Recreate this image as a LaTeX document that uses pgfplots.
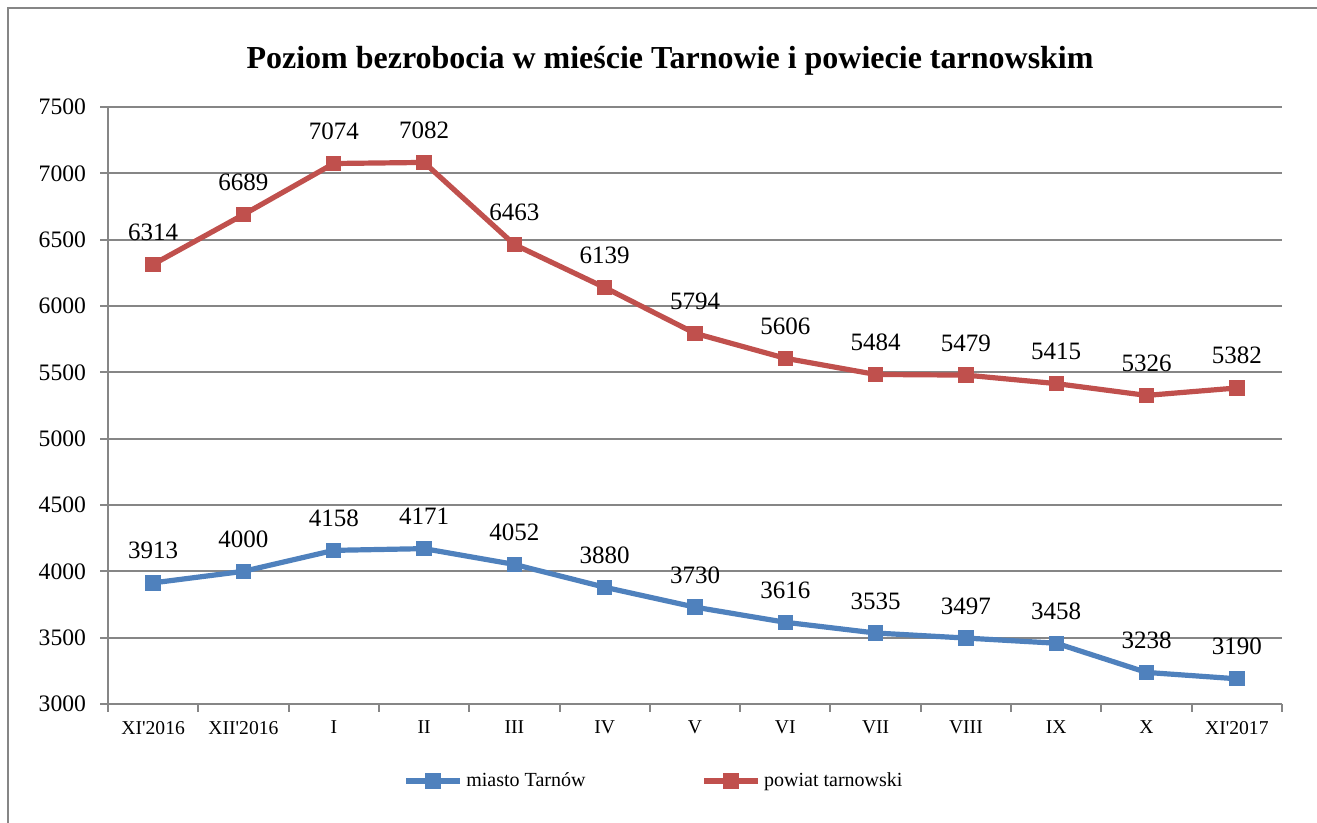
\documentclass[border=0pt]{standalone}
\usepackage{pgfplots}
\pgfplotsset{compat=1.18}
\usepackage{fontspec}
\setmainfont{Liberation Serif}
\definecolor{miasto}{HTML}{4F81BD}
\definecolor{powiat}{HTML}{C0504D}
\definecolor{gridgray}{HTML}{868686}

\begin{document}
\begin{tikzpicture}
% page is 1317x823 px, 1 px = 0.5 pt
\path[use as bounding box] (0pt,0pt) rectangle (658.5pt,411.5pt);
\draw[gridgray,line width=1pt] (4pt,0pt) -- (4pt,407.5pt) -- (658.5pt,407.5pt);
\node[font=\fontsize{16}{18}\selectfont\bfseries] at (335pt,381pt) {Poziom bezrobocia w mieście Tarnowie i powiecie tarnowskim};
\begin{axis}[at={(54pt,59.5pt)},anchor=south west,
  width=587pt,height=298.5pt,scale only axis,
  xmin=-0.5,xmax=12.5,ymin=3000,ymax=7500,
  ytick={3000,3500,...,7500},
  xtick={-0.5,0.5,...,12.5},
  x tick label as interval,
  xticklabels={XI\textquotesingle2016,XII\textquotesingle2016,I,II,III,IV,V,VI,VII,VIII,IX,X,XI\textquotesingle2017},
  axis x line*=bottom,axis y line*=left,
  axis line style={gridgray,line width=1pt,-},
  ymajorgrids,grid style={gridgray,line width=1pt},
  tick style={gridgray,line width=1pt},
  tick align=outside,major tick length=4pt,
  /pgf/number format/assume math mode=true,
  /pgf/number format/1000 sep={},
  yticklabel style={font=\fontsize{11.8}{14}\selectfont},
  yticklabel shift=3.5pt,
  xticklabel style={font=\fontsize{9.8}{12}\selectfont,yshift=-1pt},
  clip=false,
  nodes near coords,
  every node near coord/.append style={font=\fontsize{12.5}{14}\selectfont,anchor=base,yshift=12pt,text=black},
  legend columns=2,
  legend style={at={(0.466,-0.129)},anchor=center,draw=none,fill=none,
    font=\fontsize{10}{12}\selectfont,
    /tikz/every even column/.append style={column sep=56pt}},
  legend image code/.code={\draw[mark repeat=2,mark phase=2,#1] plot coordinates {(0cm,0cm) (0.47cm,0cm) (0.94cm,0cm)};},
]
\addplot[miasto,line width=2.6pt,mark=square*,mark size=3.6pt,mark options={line width=0pt}] coordinates {
(0,3913)(1,4000)(2,4158)(3,4171)(4,4052)(5,3880)(6,3730)(7,3616)(8,3535)(9,3497)(10,3458)(11,3238)(12,3190)};
\addlegendentry{miasto Tarnów}
\addplot[powiat,line width=2.6pt,mark=square*,mark size=3.6pt,mark options={line width=0pt}] coordinates {
(0,6314)(1,6689)(2,7074)(3,7082)(4,6463)(5,6139)(6,5794)(7,5606)(8,5484)(9,5479)(10,5415)(11,5326)(12,5382)};
\addlegendentry{powiat tarnowski}
\end{axis}
\end{tikzpicture}
\end{document}
